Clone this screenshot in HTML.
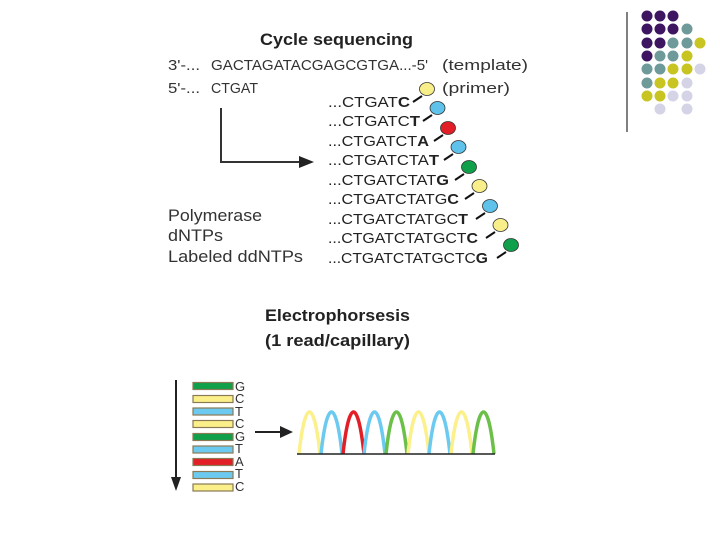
<!DOCTYPE html>
<html><head><style>
body{margin:0;background:#fff;}
svg{display:block;font-family:"Liberation Sans",Arial,sans-serif;}
</style></head><body>
<svg width="720" height="540" viewBox="0 0 720 540">
<line x1="627" y1="12" x2="627" y2="132" stroke="#000" stroke-width="1"/>
<g>
<circle cx="647" cy="16" r="5.5" fill="#3d1560"/><circle cx="660" cy="16" r="5.5" fill="#3d1560"/><circle cx="673" cy="16" r="5.5" fill="#3d1560"/>
<circle cx="647" cy="29" r="5.5" fill="#3d1560"/><circle cx="660" cy="29" r="5.5" fill="#3d1560"/><circle cx="673" cy="29" r="5.5" fill="#3d1560"/><circle cx="687" cy="29" r="5.5" fill="#6f9a9a"/>
<circle cx="647" cy="43" r="5.5" fill="#3d1560"/><circle cx="660" cy="43" r="5.5" fill="#3d1560"/><circle cx="673" cy="43" r="5.5" fill="#6f9a9a"/><circle cx="687" cy="43" r="5.5" fill="#6f9a9a"/><circle cx="700" cy="43" r="5.5" fill="#c8c422"/>
<circle cx="647" cy="56" r="5.5" fill="#3d1560"/><circle cx="660" cy="56" r="5.5" fill="#6f9a9a"/><circle cx="673" cy="56" r="5.5" fill="#6f9a9a"/><circle cx="687" cy="56" r="5.5" fill="#c8c422"/>
<circle cx="647" cy="69" r="5.5" fill="#6f9a9a"/><circle cx="660" cy="69" r="5.5" fill="#6f9a9a"/><circle cx="673" cy="69" r="5.5" fill="#c8c422"/><circle cx="687" cy="69" r="5.5" fill="#c8c422"/><circle cx="700" cy="69" r="5.5" fill="#d4d4e6"/>
<circle cx="647" cy="83" r="5.5" fill="#6f9a9a"/><circle cx="660" cy="83" r="5.5" fill="#c8c422"/><circle cx="673" cy="83" r="5.5" fill="#c8c422"/><circle cx="687" cy="83" r="5.5" fill="#d4d4e6"/>
<circle cx="647" cy="96" r="5.5" fill="#c8c422"/><circle cx="660" cy="96" r="5.5" fill="#c8c422"/><circle cx="673" cy="96" r="5.5" fill="#d4d4e6"/><circle cx="687" cy="96" r="5.5" fill="#d4d4e6"/>
<circle cx="660" cy="109" r="5.5" fill="#d4d4e6"/><circle cx="687" cy="109" r="5.5" fill="#d4d4e6"/>
</g>

<text x="260" y="45" font-size="17" font-weight="bold" fill="#222" textLength="153" lengthAdjust="spacingAndGlyphs">Cycle sequencing</text>
<g font-size="15" fill="#333">
<text x="168" y="70" textLength="32" lengthAdjust="spacingAndGlyphs">3'-...</text>
<text x="211" y="70" textLength="217" lengthAdjust="spacingAndGlyphs">GACTAGATACGAGCGTGA...-5'</text>
<text x="442" y="70" textLength="86" lengthAdjust="spacingAndGlyphs">(template)</text>
<text x="168" y="93" textLength="32" lengthAdjust="spacingAndGlyphs">5'-...</text>
<text x="211" y="93" textLength="47" lengthAdjust="spacingAndGlyphs">CTGAT</text>
<text x="442" y="93" textLength="68" lengthAdjust="spacingAndGlyphs">(primer)</text>
<text x="168" y="221" font-size="17" textLength="94" lengthAdjust="spacingAndGlyphs">Polymerase</text>
<text x="168" y="241" font-size="17" textLength="55" lengthAdjust="spacingAndGlyphs">dNTPs</text>
<text x="168" y="262" font-size="17" textLength="135" lengthAdjust="spacingAndGlyphs">Labeled ddNTPs</text>
</g>
<path d="M221 108 V162 H302" fill="none" stroke="#333" stroke-width="2"/>
<path d="M314 162 L299 156 L299 168 Z" fill="#222"/>

<g font-size="15" fill="#222">
<text x="328" y="107" textLength="82" lengthAdjust="spacingAndGlyphs">...CTGAT<tspan font-weight="bold">C</tspan></text>
<text x="328" y="126" textLength="92" lengthAdjust="spacingAndGlyphs">...CTGATC<tspan font-weight="bold">T</tspan></text>
<text x="328" y="146" textLength="101" lengthAdjust="spacingAndGlyphs">...CTGATCT<tspan font-weight="bold">A</tspan></text>
<text x="328" y="165" textLength="111" lengthAdjust="spacingAndGlyphs">...CTGATCTA<tspan font-weight="bold">T</tspan></text>
<text x="328" y="185" textLength="121" lengthAdjust="spacingAndGlyphs">...CTGATCTAT<tspan font-weight="bold">G</tspan></text>
<text x="328" y="204" textLength="131" lengthAdjust="spacingAndGlyphs">...CTGATCTATG<tspan font-weight="bold">C</tspan></text>
<text x="328" y="224" textLength="140" lengthAdjust="spacingAndGlyphs">...CTGATCTATGC<tspan font-weight="bold">T</tspan></text>
<text x="328" y="243" textLength="150" lengthAdjust="spacingAndGlyphs">...CTGATCTATGCT<tspan font-weight="bold">C</tspan></text>
<text x="328" y="263" textLength="160" lengthAdjust="spacingAndGlyphs">...CTGATCTATGCTC<tspan font-weight="bold">G</tspan></text>
</g>
<g stroke="#111" stroke-width="2">
<line x1="413" y1="102" x2="422" y2="96"/><line x1="423" y1="121" x2="432" y2="115"/><line x1="434" y1="141" x2="443" y2="135"/><line x1="444" y1="160" x2="453" y2="154"/><line x1="455" y1="180" x2="464" y2="174"/><line x1="465" y1="199" x2="474" y2="193"/><line x1="476" y1="219" x2="485" y2="213"/><line x1="486" y1="238" x2="495" y2="232"/><line x1="497" y1="258" x2="506" y2="252"/>
</g>
<g stroke="#333" stroke-width="0.8">
<ellipse cx="427" cy="89" rx="7.5" ry="6.5" fill="#f9ef8a"/>
<ellipse cx="437.5" cy="108" rx="7.5" ry="6.5" fill="#5ec2ea"/>
<ellipse cx="448" cy="128" rx="7.5" ry="6.5" fill="#e21f26"/>
<ellipse cx="458.5" cy="147" rx="7.5" ry="6.5" fill="#5ec2ea"/>
<ellipse cx="469" cy="167" rx="7.5" ry="6.5" fill="#10a04a"/>
<ellipse cx="479.5" cy="186" rx="7.5" ry="6.5" fill="#f9ef8a"/>
<ellipse cx="490" cy="206" rx="7.5" ry="6.5" fill="#5ec2ea"/>
<ellipse cx="500.5" cy="225" rx="7.5" ry="6.5" fill="#f9ef8a"/>
<ellipse cx="511" cy="245" rx="7.5" ry="6.5" fill="#10a04a"/>
</g>

<text x="265" y="321" font-size="17" font-weight="bold" fill="#222" textLength="145" lengthAdjust="spacingAndGlyphs">Electrophorsesis</text>
<text x="265" y="346" font-size="17" font-weight="bold" fill="#222" textLength="145" lengthAdjust="spacingAndGlyphs">(1 read/capillary)</text>

<line x1="176" y1="380" x2="176" y2="480" stroke="#222" stroke-width="2"/>
<path d="M176 491 L171 477 L181 477 Z" fill="#222"/>
<g stroke="#8a7a55" stroke-width="1.2">
<rect x="193" y="382.5" width="40" height="7" fill="#10a04a"/>
<rect x="193" y="395.5" width="40" height="7" fill="#fbef8a"/>
<rect x="193" y="408" width="40" height="7" fill="#6ccaf0"/>
<rect x="193" y="420.5" width="40" height="7" fill="#fbef8a"/>
<rect x="193" y="433.5" width="40" height="7" fill="#10a04a"/>
<rect x="193" y="446" width="40" height="7" fill="#6ccaf0"/>
<rect x="193" y="458.5" width="40" height="7" fill="#e21f26"/>
<rect x="193" y="471.5" width="40" height="7" fill="#6ccaf0"/>
<rect x="193" y="484" width="40" height="7" fill="#fbef8a"/>
</g>
<g font-size="13" fill="#333">
<text x="235" y="391">G</text><text x="235" y="403">C</text><text x="235" y="416">T</text><text x="235" y="428">C</text><text x="235" y="441">G</text><text x="235" y="453">T</text><text x="235" y="466">A</text><text x="235" y="478">T</text><text x="235" y="491">C</text>
</g>
<line x1="255" y1="432" x2="282" y2="432" stroke="#222" stroke-width="2"/>
<path d="M293 432 L280 426 L280 438 Z" fill="#222"/>

<g fill="none" stroke-width="3.5">
<path d="M299 454 C305 398 314 398 320 454" stroke="#fbf08a"/>
<path d="M321 454 C327 398 336 398 342 454" stroke="#6ccaf0"/>
<path d="M343 454 C349 398 358 398 364 454" stroke="#e21f26"/>
<path d="M364 454 C370 398 379 398 385 454" stroke="#6ccaf0"/>
<path d="M386 454 C392 398 401 398 407 454" stroke="#6cc04a"/>
<path d="M408 454 C414 398 423 398 429 454" stroke="#fbf08a"/>
<path d="M429 454 C435 398 444 398 450 454" stroke="#6ccaf0"/>
<path d="M451 454 C457 398 466 398 472 454" stroke="#fbf08a"/>
<path d="M473 454 C479 398 488 398 494 454" stroke="#6cc04a"/>
</g>
<line x1="297" y1="454" x2="495" y2="454" stroke="#222" stroke-width="1.5"/>
</svg>
</body></html>
